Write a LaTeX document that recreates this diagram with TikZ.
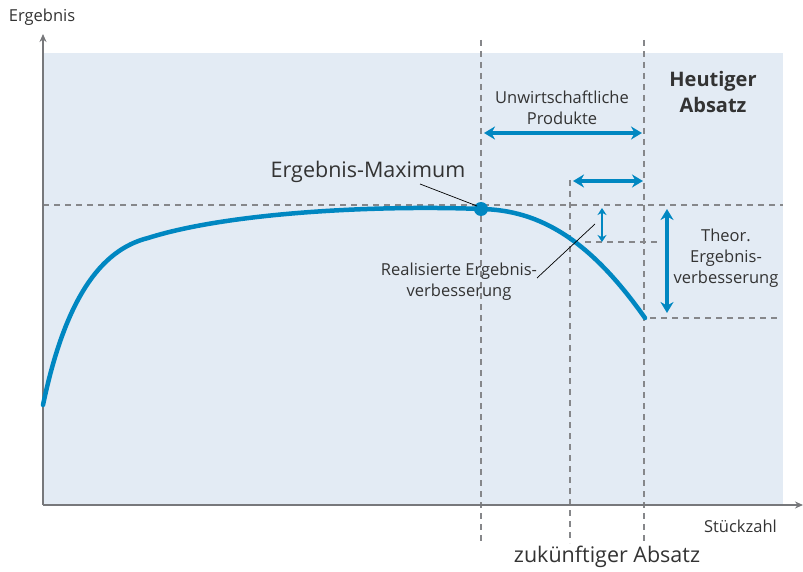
\documentclass[tikz,border=0pt]{standalone}
\usepackage{fontspec}
\setmainfont{Open Sans}
\usetikzlibrary{arrows.meta}
\definecolor{bgblue}{HTML}{E3EBF4}
\definecolor{cblue}{HTML}{0087C1}
\definecolor{axgray}{HTML}{77787B}
\definecolor{dgray}{HTML}{86878A}
\definecolor{txt}{HTML}{333333}
\tikzset{
  dash line/.style={dgray, line width=2.5pt, dash pattern=on 6pt off 5pt},
  dbl arrow/.style={cblue, line width=3.2pt, {Stealth[length=11pt,width=13pt]}-{Stealth[length=11pt,width=13pt]}},
  small arrow/.style={cblue, line width=2.2pt, {Stealth[length=7pt,width=9pt]}-{Stealth[length=7pt,width=9pt]}},
  lbl/.style={text=txt, font=\fontsize{16.5}{21}\selectfont, align=center, inner sep=0pt},
  big/.style={text=txt, font=\fontsize{21.5}{25}\selectfont, align=center, inner sep=0pt},
  leader/.style={black, line width=0.7pt},
}
\begin{document}
\begin{tikzpicture}[x=1pt,y=-1pt]
\useasboundingbox (0,0) rectangle (803,572);
\fill[bgblue] (43,53) rectangle (783,505);
% dashed guides
\draw[dash line] (43,205) -- (783,205);
\draw[dash line] (585,242) -- (660,242);
\draw[dash line] (650,318) -- (780,318);
\draw[dash line] (481,40) -- (481,543);
\draw[dash line] (570,180) -- (570,543);
\draw[dash line] (644,40) -- (644,543);
% axes
\coordinate (o) at (43,505);
\coordinate (ytop) at (43,34);
\coordinate (xend) at (803,505);
\draw[axgray, line width=2.5pt, -{Stealth[length=8pt,width=7pt]}] (o) -- (ytop);
\draw[axgray, line width=2.5pt, -{Stealth[length=8pt,width=7pt]}] (o) -- (xend);
% curve
\coordinate (c0) at (43,405);
\coordinate (c1) at (148,238);
\coordinate (mx) at (481,209);
\coordinate (c3) at (645,318);
\draw[cblue, line width=4.5pt, line cap=round]
  (c0) .. controls (65,300) and (100,250) .. (c1)
  .. controls (230,212) and (380,205) .. (mx)
  .. controls (540,210) and (590,240) .. (c3);
\fill[cblue] (mx) circle (7pt);
% arrows
\coordinate (a1l) at (484,133); \coordinate (a1r) at (642,133);
\draw[dbl arrow] (a1l) -- (a1r);
\coordinate (a2l) at (573,181); \coordinate (a2r) at (643,181);
\draw[dbl arrow] (a2l) -- (a2r);
\coordinate (a3t) at (602,208); \coordinate (a3b) at (602,242);
\draw[small arrow] (a3t) -- (a3b);
\coordinate (a4t) at (667,209); \coordinate (a4b) at (667,313);
\draw[dbl arrow] (a4t) -- (a4b);
% labels
\node[lbl] (ergy) at (42,17) {Ergebnis};
\node[lbl, anchor=east] (stk) at (777,526) {Stückzahl};
\node[lbl] (unw) at (562,108) {Unwirtschaftliche\\Produkte};
\node[big, font=\bfseries\fontsize{20}{26}\selectfont] (heut) at (713,92) {Heutiger\\Absatz};
\node[big] (emax) at (368,172) {Ergebnis-Maximum};
\node[lbl] (real) at (459,282) {Realisierte Ergebnis-\\verbesserung};
\node[lbl] (theo) at (726,258) {Theor.\\Ergebnis-\\verbesserung};
\node[big] (zuk) at (607,557) {zukünftiger Absatz};
% leaders
\coordinate (l1a) at (420,184); \coordinate (l1b) at (477,206);
\draw[leader] (l1a) -- (l1b);
\coordinate (l2a) at (537,278); \coordinate (l2b) at (595,224);
\draw[leader] (l2a) -- (l2b);
\end{tikzpicture}
\end{document}
